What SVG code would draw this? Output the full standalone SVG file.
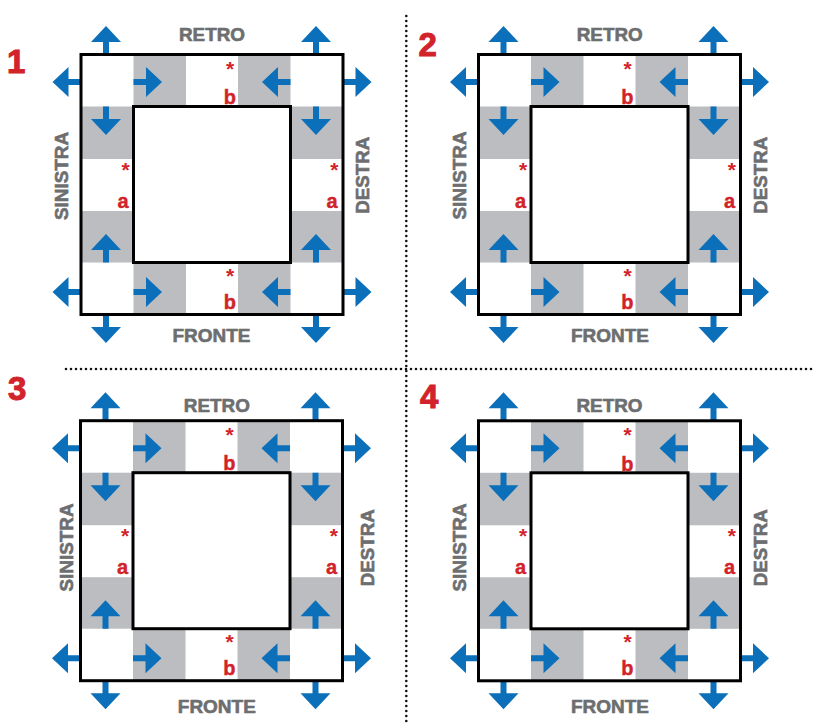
<svg xmlns="http://www.w3.org/2000/svg" xmlns:xlink="http://www.w3.org/1999/xlink" width="815" height="724" viewBox="0 0 815 724">
<style>
.g{fill:#bcbdc0}
.bg{fill:#fff}
.k{fill:none;stroke:#000;stroke-width:3}
.kin{fill:#fff;stroke:#000;stroke-width:3}
.arr{fill:#0b6fba}
.lbl{font-family:"Liberation Sans",Arial,sans-serif;font-weight:bold;font-size:18.5px;fill:#6d6e70;stroke:#6d6e70;stroke-width:0.6;text-anchor:middle}
.red{font-family:"Liberation Sans",Arial,sans-serif;font-weight:bold;font-size:20px;fill:#d2232a;stroke:#d2232a;stroke-width:0.4;text-anchor:end}
.st{font-family:"Liberation Sans",Arial,sans-serif;font-weight:bold;font-size:21px;fill:#d2232a;text-anchor:middle}
.num{font-family:"Liberation Sans",Arial,sans-serif;font-weight:900;font-size:33px;fill:#d2232a;stroke:#d2232a;stroke-width:1}
.dot{stroke:#111;stroke-width:2.6;stroke-linecap:round;stroke-dasharray:0 5;fill:none}
</style>
<defs>
<path id="arr" d="M0,-3 H12.5 V-15 L28.5,0 L12.5,15 V3 H0 Z"/>
</defs>
<rect width="815" height="724" fill="#fff"/>

<g id="separators">
<line class="dot" x1="406.3" y1="16" x2="406.3" y2="724"/>
<line class="dot" x1="66" y1="369" x2="815" y2="369"/>
</g>

<g id="q1" transform="translate(81,54.5)">
<rect class="bg" x="0" y="0" width="262" height="260"/>
<rect class="g" x="52.5" y="0" width="52.5" height="52"/>
<rect class="g" x="157" y="0" width="52.5" height="52"/>
<rect class="g" x="52.5" y="208" width="52.5" height="52"/>
<rect class="g" x="157" y="208" width="52.5" height="52"/>
<rect class="g" x="0" y="52" width="52.5" height="52.5"/>
<rect class="g" x="0" y="156.5" width="52.5" height="51.5"/>
<rect class="g" x="209.5" y="52" width="52.5" height="52.5"/>
<rect class="g" x="209.5" y="156.5" width="52.5" height="51.5"/>
<g class="arr">
<use xlink:href="#arr" transform="translate(52.5,27.5)"/>
<use xlink:href="#arr" transform="translate(209.5,27.5) rotate(180)"/>
<use xlink:href="#arr" transform="translate(52.5,237.5)"/>
<use xlink:href="#arr" transform="translate(209.5,237.5) rotate(180)"/>
<use xlink:href="#arr" transform="translate(25,52) rotate(90)"/>
<use xlink:href="#arr" transform="translate(25,208) rotate(-90)"/>
<use xlink:href="#arr" transform="translate(235,52) rotate(90)"/>
<use xlink:href="#arr" transform="translate(235,208) rotate(-90)"/>
<use xlink:href="#arr" transform="translate(25,0) rotate(-90)"/>
<use xlink:href="#arr" transform="translate(0,27.5) rotate(180)"/>
<use xlink:href="#arr" transform="translate(235,0) rotate(-90)"/>
<use xlink:href="#arr" transform="translate(262,27.5)"/>
<use xlink:href="#arr" transform="translate(0,237.5) rotate(180)"/>
<use xlink:href="#arr" transform="translate(25,260) rotate(90)"/>
<use xlink:href="#arr" transform="translate(262,237.5)"/>
<use xlink:href="#arr" transform="translate(235,260) rotate(90)"/>
</g>
<rect class="kin" x="52.5" y="52" width="157" height="156"/>
<rect class="k" x="0" y="0" width="262" height="260"/>
<text class="st" x="149" y="21.5">*</text>
<text class="red" x="155" y="49.8">b</text>
<text class="st" x="149" y="228.5">*</text>
<text class="red" x="155" y="254.5">b</text>
<text class="st" x="44.7" y="122.5">*</text>
<text class="red" x="47.5" y="153.2">a</text>
<text class="st" x="253.3" y="122.5">*</text>
<text class="red" x="256.5" y="153.2">a</text>
</g>
<g id="q1-labels">
<text class="num" x="7" y="73">1</text>
<text class="lbl" x="212" y="40.7" textLength="66" lengthAdjust="spacingAndGlyphs">RETRO</text>
<text class="lbl" x="211.5" y="341.7" textLength="78" lengthAdjust="spacingAndGlyphs">FRONTE</text>
<text class="lbl" transform="translate(68,176) rotate(-90)" textLength="88" lengthAdjust="spacingAndGlyphs">SINISTRA</text>
<text class="lbl" transform="translate(369,175.3) rotate(-90)" textLength="77" lengthAdjust="spacingAndGlyphs">DESTRA</text>
</g>

<g id="q2" transform="translate(478.5,54.5)">
<rect class="bg" x="0" y="0" width="262" height="260"/>
<rect class="g" x="52.5" y="0" width="52.5" height="52"/>
<rect class="g" x="157" y="0" width="52.5" height="52"/>
<rect class="g" x="52.5" y="208" width="52.5" height="52"/>
<rect class="g" x="157" y="208" width="52.5" height="52"/>
<rect class="g" x="0" y="52" width="52.5" height="52.5"/>
<rect class="g" x="0" y="156.5" width="52.5" height="51.5"/>
<rect class="g" x="209.5" y="52" width="52.5" height="52.5"/>
<rect class="g" x="209.5" y="156.5" width="52.5" height="51.5"/>
<g class="arr">
<use xlink:href="#arr" transform="translate(52.5,27.5)"/>
<use xlink:href="#arr" transform="translate(209.5,27.5) rotate(180)"/>
<use xlink:href="#arr" transform="translate(52.5,237.5)"/>
<use xlink:href="#arr" transform="translate(209.5,237.5) rotate(180)"/>
<use xlink:href="#arr" transform="translate(25,52) rotate(90)"/>
<use xlink:href="#arr" transform="translate(25,208) rotate(-90)"/>
<use xlink:href="#arr" transform="translate(235,52) rotate(90)"/>
<use xlink:href="#arr" transform="translate(235,208) rotate(-90)"/>
<use xlink:href="#arr" transform="translate(25,0) rotate(-90)"/>
<use xlink:href="#arr" transform="translate(0,27.5) rotate(180)"/>
<use xlink:href="#arr" transform="translate(235,0) rotate(-90)"/>
<use xlink:href="#arr" transform="translate(262,27.5)"/>
<use xlink:href="#arr" transform="translate(0,237.5) rotate(180)"/>
<use xlink:href="#arr" transform="translate(25,260) rotate(90)"/>
<use xlink:href="#arr" transform="translate(262,237.5)"/>
<use xlink:href="#arr" transform="translate(235,260) rotate(90)"/>
</g>
<rect class="kin" x="52.5" y="52" width="157" height="156"/>
<rect class="k" x="0" y="0" width="262" height="260"/>
<text class="st" x="149" y="21.5">*</text>
<text class="red" x="155" y="49.8">b</text>
<text class="st" x="149" y="228.5">*</text>
<text class="red" x="155" y="254.5">b</text>
<text class="st" x="44.7" y="122.5">*</text>
<text class="red" x="47.5" y="153.2">a</text>
<text class="st" x="253.3" y="122.5">*</text>
<text class="red" x="256.5" y="153.2">a</text>
</g>
<g id="q2-labels">
<text class="num" x="418.5" y="55.5">2</text>
<text class="lbl" x="609.7" y="40.7" textLength="66" lengthAdjust="spacingAndGlyphs">RETRO</text>
<text class="lbl" x="610" y="341.7" textLength="78" lengthAdjust="spacingAndGlyphs">FRONTE</text>
<text class="lbl" transform="translate(466,175.5) rotate(-90)" textLength="88" lengthAdjust="spacingAndGlyphs">SINISTRA</text>
<text class="lbl" transform="translate(766.7,175.3) rotate(-90)" textLength="77" lengthAdjust="spacingAndGlyphs">DESTRA</text>
</g>

<g id="q3" transform="translate(80.5,420.7)">
<rect class="bg" x="0" y="0" width="262" height="260"/>
<rect class="g" x="52.5" y="0" width="52.5" height="52"/>
<rect class="g" x="157" y="0" width="52.5" height="52"/>
<rect class="g" x="52.5" y="208" width="52.5" height="52"/>
<rect class="g" x="157" y="208" width="52.5" height="52"/>
<rect class="g" x="0" y="52" width="52.5" height="52.5"/>
<rect class="g" x="0" y="156.5" width="52.5" height="51.5"/>
<rect class="g" x="209.5" y="52" width="52.5" height="52.5"/>
<rect class="g" x="209.5" y="156.5" width="52.5" height="51.5"/>
<g class="arr">
<use xlink:href="#arr" transform="translate(52.5,27.5)"/>
<use xlink:href="#arr" transform="translate(209.5,27.5) rotate(180)"/>
<use xlink:href="#arr" transform="translate(52.5,237.5)"/>
<use xlink:href="#arr" transform="translate(209.5,237.5) rotate(180)"/>
<use xlink:href="#arr" transform="translate(25,52) rotate(90)"/>
<use xlink:href="#arr" transform="translate(25,208) rotate(-90)"/>
<use xlink:href="#arr" transform="translate(235,52) rotate(90)"/>
<use xlink:href="#arr" transform="translate(235,208) rotate(-90)"/>
<use xlink:href="#arr" transform="translate(25,0) rotate(-90)"/>
<use xlink:href="#arr" transform="translate(0,27.5) rotate(180)"/>
<use xlink:href="#arr" transform="translate(235,0) rotate(-90)"/>
<use xlink:href="#arr" transform="translate(262,27.5)"/>
<use xlink:href="#arr" transform="translate(0,237.5) rotate(180)"/>
<use xlink:href="#arr" transform="translate(25,260) rotate(90)"/>
<use xlink:href="#arr" transform="translate(262,237.5)"/>
<use xlink:href="#arr" transform="translate(235,260) rotate(90)"/>
</g>
<rect class="kin" x="52.5" y="52" width="157" height="156"/>
<rect class="k" x="0" y="0" width="262" height="260"/>
<text class="st" x="149" y="21.5">*</text>
<text class="red" x="155" y="49.8">b</text>
<text class="st" x="149" y="228.5">*</text>
<text class="red" x="155" y="254.5">b</text>
<text class="st" x="44.7" y="122.5">*</text>
<text class="red" x="47.5" y="153.2">a</text>
<text class="st" x="253.3" y="122.5">*</text>
<text class="red" x="256.5" y="153.2">a</text>
</g>
<g id="q3-labels">
<text class="num" x="8" y="400">3</text>
<text class="lbl" x="216.8" y="411.7" textLength="66" lengthAdjust="spacingAndGlyphs">RETRO</text>
<text class="lbl" x="216.8" y="712.7" textLength="78" lengthAdjust="spacingAndGlyphs">FRONTE</text>
<text class="lbl" transform="translate(72.7,547.5) rotate(-90)" textLength="88" lengthAdjust="spacingAndGlyphs">SINISTRA</text>
<text class="lbl" transform="translate(374,547.7) rotate(-90)" textLength="77" lengthAdjust="spacingAndGlyphs">DESTRA</text>
</g>

<g id="q4" transform="translate(478.5,420.8)">
<rect class="bg" x="0" y="0" width="262" height="260"/>
<rect class="g" x="52.5" y="0" width="52.5" height="52"/>
<rect class="g" x="157" y="0" width="52.5" height="52"/>
<rect class="g" x="52.5" y="208" width="52.5" height="52"/>
<rect class="g" x="157" y="208" width="52.5" height="52"/>
<rect class="g" x="0" y="52" width="52.5" height="52.5"/>
<rect class="g" x="0" y="156.5" width="52.5" height="51.5"/>
<rect class="g" x="209.5" y="52" width="52.5" height="52.5"/>
<rect class="g" x="209.5" y="156.5" width="52.5" height="51.5"/>
<g class="arr">
<use xlink:href="#arr" transform="translate(52.5,27.5)"/>
<use xlink:href="#arr" transform="translate(209.5,27.5) rotate(180)"/>
<use xlink:href="#arr" transform="translate(52.5,237.5)"/>
<use xlink:href="#arr" transform="translate(209.5,237.5) rotate(180)"/>
<use xlink:href="#arr" transform="translate(25,52) rotate(90)"/>
<use xlink:href="#arr" transform="translate(25,208) rotate(-90)"/>
<use xlink:href="#arr" transform="translate(235,52) rotate(90)"/>
<use xlink:href="#arr" transform="translate(235,208) rotate(-90)"/>
<use xlink:href="#arr" transform="translate(25,0) rotate(-90)"/>
<use xlink:href="#arr" transform="translate(0,27.5) rotate(180)"/>
<use xlink:href="#arr" transform="translate(235,0) rotate(-90)"/>
<use xlink:href="#arr" transform="translate(262,27.5)"/>
<use xlink:href="#arr" transform="translate(0,237.5) rotate(180)"/>
<use xlink:href="#arr" transform="translate(25,260) rotate(90)"/>
<use xlink:href="#arr" transform="translate(262,237.5)"/>
<use xlink:href="#arr" transform="translate(235,260) rotate(90)"/>
</g>
<rect class="kin" x="52.5" y="52" width="157" height="156"/>
<rect class="k" x="0" y="0" width="262" height="260"/>
<text class="st" x="149" y="21.5">*</text>
<text class="red" x="155" y="49.8">b</text>
<text class="st" x="149" y="228.5">*</text>
<text class="red" x="155" y="254.5">b</text>
<text class="st" x="44.7" y="122.5">*</text>
<text class="red" x="47.5" y="153.2">a</text>
<text class="st" x="253.3" y="122.5">*</text>
<text class="red" x="256.5" y="153.2">a</text>
</g>
<g id="q4-labels">
<text class="num" x="420" y="408">4</text>
<text class="lbl" x="609.5" y="411.7" textLength="66" lengthAdjust="spacingAndGlyphs">RETRO</text>
<text class="lbl" x="610" y="713.3" textLength="78" lengthAdjust="spacingAndGlyphs">FRONTE</text>
<text class="lbl" transform="translate(466,547.5) rotate(-90)" textLength="88" lengthAdjust="spacingAndGlyphs">SINISTRA</text>
<text class="lbl" transform="translate(766.7,547.7) rotate(-90)" textLength="77" lengthAdjust="spacingAndGlyphs">DESTRA</text>
</g>
</svg>
